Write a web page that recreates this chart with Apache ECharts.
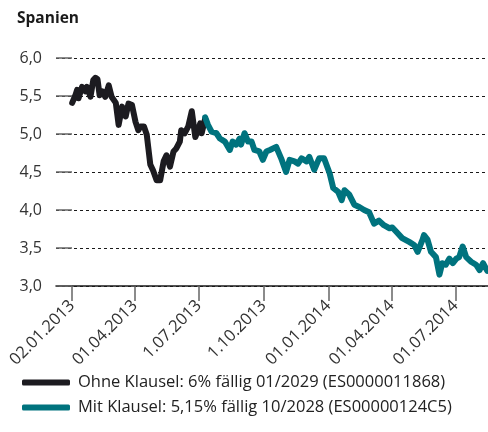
<!DOCTYPE html>
<html>
<head>
<meta charset="utf-8">
<script src="https://cdn.jsdelivr.net/npm/echarts@6/dist/echarts.min.js"></script>
<style>
  html, body { margin: 0; padding: 0; background: #fff; }
  #chart { width: 488px; height: 432px; }
</style>
</head>
<body>
<div id="chart"></div>
<script>
const title = 'Spanien'
const seriesNames = [
  'Ohne Klausel: 6% fällig 01/2029 (ES0000011868)',
  'Mit Klausel: 5,15% fällig 10/2028 (ES00000124C5)'
]

// Ohne Klausel (black)
const ohneDates = [
  '2013-01-02', '2013-01-07', '2013-01-09', '2013-01-11', '2013-01-16', '2013-01-21',
  '2013-01-23', '2013-01-28', '2013-02-01', '2013-02-04', '2013-02-07', '2013-02-10',
  '2013-02-14', '2013-02-18', '2013-02-23', '2013-02-27', '2013-03-05', '2013-03-09',
  '2013-03-14', '2013-03-19', '2013-03-23', '2013-03-28', '2013-04-02', '2013-04-06',
  '2013-04-09', '2013-04-14', '2013-04-18', '2013-04-23', '2013-04-27', '2013-05-02',
  '2013-05-07', '2013-05-12', '2013-05-16', '2013-05-21', '2013-05-26', '2013-05-30',
  '2013-06-04', '2013-06-06', '2013-06-11', '2013-06-16', '2013-06-21', '2013-06-26',
  '2013-06-30', '2013-07-03', '2013-07-05', '2013-07-10'
]
const ohneValues = [
  5.41, 5.52, 5.58, 5.47, 5.62, 5.56,
  5.62, 5.49, 5.71, 5.74, 5.72, 5.51,
  5.56, 5.49, 5.64, 5.49, 5.41, 5.12,
  5.36, 5.23, 5.40, 5.38, 5.16, 5.05,
  5.10, 5.10, 4.99, 4.60, 4.52, 4.39,
  4.39, 4.64, 4.72, 4.57, 4.77, 4.81,
  4.90, 5.05, 5.01, 5.10, 5.30, 4.96,
  5.05, 5.14, 5.01, 5.20
]

// Mit Klausel (teal)
const mitDates = [
  '2013-07-10', '2013-07-14', '2013-07-19', '2013-07-26', '2013-07-31', '2013-08-07',
  '2013-08-14', '2013-08-18', '2013-08-23', '2013-08-28', '2013-08-30', '2013-09-04',
  '2013-09-09', '2013-09-14', '2013-09-18', '2013-09-25', '2013-09-30', '2013-10-05',
  '2013-10-10', '2013-10-19', '2013-10-26', '2013-11-02', '2013-11-07', '2013-11-14',
  '2013-11-19', '2013-11-24', '2013-12-01', '2013-12-05', '2013-12-12', '2013-12-19',
  '2013-12-26', '2014-01-03', '2014-01-08', '2014-01-15', '2014-01-20', '2014-01-24',
  '2014-01-31', '2014-02-07', '2014-02-14', '2014-02-21', '2014-02-28', '2014-03-07',
  '2014-03-14', '2014-03-21', '2014-03-29', '2014-04-02', '2014-04-09', '2014-04-16',
  '2014-04-26', '2014-05-03', '2014-05-08', '2014-05-15', '2014-05-17', '2014-05-22',
  '2014-05-27', '2014-06-03', '2014-06-08', '2014-06-12', '2014-06-17', '2014-06-22',
  '2014-06-27', '2014-07-02', '2014-07-06', '2014-07-11', '2014-07-16', '2014-07-23',
  '2014-07-30', '2014-08-04', '2014-08-09', '2014-08-15'
]
const mitValues = [
  5.22, 5.12, 5.03, 5.01, 4.94, 4.90,
  4.79, 4.90, 4.86, 4.94, 4.86, 5.01,
  4.90, 4.90, 4.79, 4.77, 4.66, 4.77,
  4.79, 4.83, 4.68, 4.50, 4.66, 4.64,
  4.61, 4.68, 4.64, 4.70, 4.53, 4.68,
  4.68, 4.48, 4.29, 4.24, 4.13, 4.26,
  4.20, 4.07, 4.04, 4.00, 3.97, 3.82,
  3.86, 3.80, 3.76, 3.77, 3.70, 3.63,
  3.58, 3.54, 3.45, 3.61, 3.67, 3.61,
  3.45, 3.38, 3.15, 3.30, 3.28, 3.36,
  3.30, 3.36, 3.38, 3.52, 3.38, 3.32,
  3.28, 3.21, 3.30, 3.20
]

// x-axis tick dates and their labels
const tickDates = ['2013-01-02', '2013-04-01', '2013-07-01', '2013-10-01', '2014-01-01', '2014-04-01', '2014-07-01']
const tickLabels = ['02.01.2013', '01.04.2013', '1.07.2013', '1.10.2013', '01.01.2014', '01.04.2014', '01.07.2014']

const ts = d => new Date(d + 'T00:00:00Z').getTime()
const tickValues = tickDates.map(ts)
const labelByTs = {}
tickValues.forEach((v, i) => { labelByTs[v] = tickLabels[i] })

const FONT = '"Open Sans", "Noto Sans", sans-serif'
const chart = echarts.init(document.getElementById('chart'), null, { renderer: 'canvas' })

chart.setOption({
  animation: false,
  backgroundColor: '#fff',
  textStyle: { fontFamily: FONT },
  title: {
    text: title,
    left: 17,
    top: 11,
    padding: 0,
    textStyle: { fontSize: 15.5, fontWeight: 'bold', color: '#1a1a1a', fontFamily: FONT }
  },
  legend: {
    orient: 'vertical',
    left: 22,
    top: 374,
    padding: 0,
    itemWidth: 48,
    itemHeight: 6,
    itemGap: 8,
    icon: 'roundRect',
    textStyle: { fontSize: 16.5, color: '#222', fontFamily: FONT, padding: [0, 0, 0, 3] },
    data: seriesNames
  },
  grid: { left: 56, right: 0, top: 58, bottom: 146, containLabel: false },
  xAxis: {
    type: 'value',
    min: ts('2012-12-10'),
    max: ts('2014-08-16'),
    axisLine: { show: true, lineStyle: { color: '#1a1a1a', width: 1.5 } },
    axisTick: {
      show: true,
      customValues: tickValues,
      length: 15,
      lineStyle: { color: '#666', width: 1.5 }
    },
    axisLabel: {
      customValues: tickValues,
      rotate: 45,
      margin: 17,
      fontSize: 16.5,
      color: '#333',
      fontFamily: FONT,
      formatter: v => labelByTs[v] || ''
    },
    splitLine: { show: false }
  },
  yAxis: {
    type: 'value',
    min: 3.0,
    max: 6.0,
    interval: 0.5,
    axisLine: { show: false },
    axisTick: { show: true, inside: true, length: 16, lineStyle: { color: '#666', width: 1.5 } },
    axisLabel: {
      margin: 14,
      fontSize: 16,
      color: '#333',
      fontFamily: FONT,
      formatter: v => v.toFixed(1).replace('.', ',')
    },
    splitLine: { show: true, lineStyle: { color: '#1a1a1a', type: [3, 3], width: 1 } }
  },
  series: [
    {
      name: seriesNames[0],
      type: 'line',
      symbol: 'none',
      color: '#1c1b20',
      lineStyle: { width: 6, join: 'round', cap: 'round' },
      data: ohneDates.map((d, i) => [ts(d), ohneValues[i]]),
      z: 2
    },
    {
      name: seriesNames[1],
      type: 'line',
      symbol: 'none',
      color: '#00737e',
      lineStyle: { width: 6, join: 'round', cap: 'round' },
      data: mitDates.map((d, i) => [ts(d), mitValues[i]]),
      z: 3
    }
  ]
})
</script>
</body>
</html>
